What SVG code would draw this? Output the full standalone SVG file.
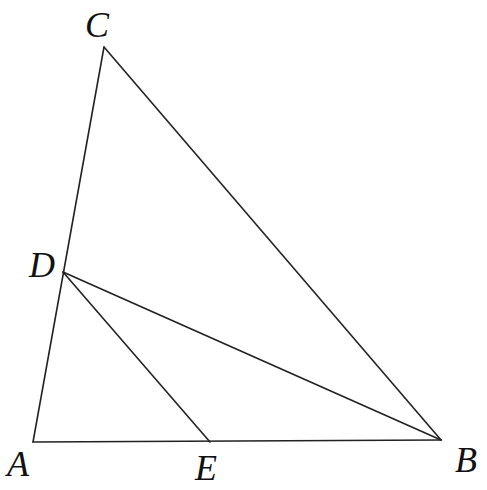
<svg xmlns="http://www.w3.org/2000/svg" width="487" height="490" viewBox="0 0 487 490">
<style>
.l{stroke:#222;stroke-width:1.6;fill:none;stroke-linecap:round}
.t{font-family:"Liberation Serif",serif;font-style:italic;font-size:36px;fill:#111}
</style>
<rect width="487" height="490" fill="#fff"/>
<g id="connectors">
<line class="l" x1="33" y1="442" x2="104" y2="47"/>
<line class="l" x1="104" y1="47" x2="441" y2="440"/>
<line class="l" x1="33" y1="442" x2="441" y2="440"/>
<line class="l" x1="63" y1="272" x2="441" y2="440"/>
<line class="l" x1="63" y1="272" x2="210" y2="442"/>
</g>
<g id="A"><text class="t" x="7" y="476">A</text></g>
<g id="B"><text class="t" x="455" y="472">B</text></g>
<g id="C"><text class="t" x="85" y="37">C</text></g>
<g id="D"><text class="t" x="29" y="277">D</text></g>
<g id="E"><text class="t" x="195" y="480">E</text></g>
</svg>
